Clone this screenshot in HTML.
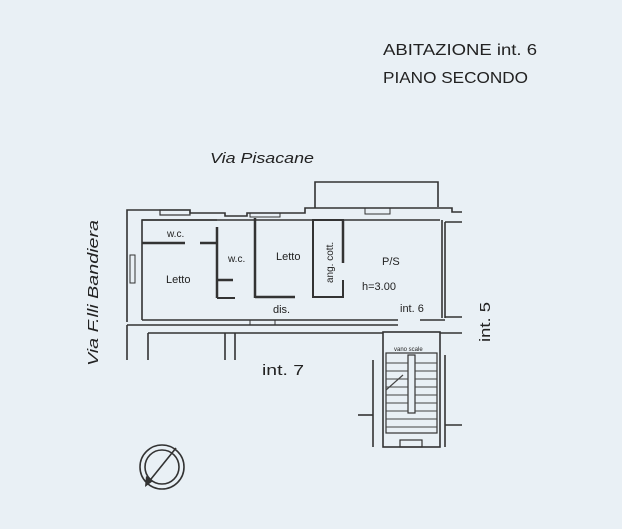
<!DOCTYPE html>
<html><head><style>
html,body{margin:0;padding:0;background:#e9f0f5;}
svg{display:block}
text{font-family:"Liberation Sans",sans-serif;fill:#222}
</style></head><body>
<svg width="622" height="529" viewBox="0 0 622 529" xmlns="http://www.w3.org/2000/svg">
<rect width="622" height="529" fill="#e9f0f5"/>
<text x="383" y="55" font-size="16" textLength="154" lengthAdjust="spacingAndGlyphs">ABITAZIONE int. 6</text>
<text x="383" y="83" font-size="16" textLength="145" lengthAdjust="spacingAndGlyphs">PIANO SECONDO</text>
<text x="210" y="163" font-size="15" font-style="italic" textLength="104" lengthAdjust="spacingAndGlyphs">Via Pisacane</text>
<text transform="translate(98,366) rotate(-90)" font-size="15" font-style="italic" textLength="146" lengthAdjust="spacingAndGlyphs">Via F.lli Bandiera</text>
<text transform="translate(490,342) rotate(-90)" font-size="15" textLength="40" lengthAdjust="spacingAndGlyphs">int. 5</text>
<text x="262" y="375" font-size="15" textLength="42" lengthAdjust="spacingAndGlyphs">int. 7</text>

<g stroke="#333" stroke-width="1.6" fill="none">
<!-- outer walls -->
<polyline points="127,322 127,210 190,210 190,213 225,213 225,216 247,216 247,213 305,213 305,208 315,208"/>
<polyline points="315,208 315,182 438,182 438,207"/>
<polyline points="315,208 452,208 452,212 462,212"/>
<polyline points="142,320 142,220 217,220"/>
<line x1="142" y1="220" x2="440" y2="220"/>
<line x1="442" y1="220" x2="442" y2="318"/>
<line x1="445" y1="222" x2="445" y2="318"/>
<line x1="445" y1="222" x2="462" y2="222"/>
<line x1="445" y1="317" x2="462" y2="317"/>
<line x1="142" y1="320" x2="398" y2="320"/>
<line x1="127" y1="325" x2="398" y2="325"/>
<line x1="420" y1="320" x2="445" y2="320"/>
<line x1="148" y1="333" x2="383" y2="333"/>
<line x1="440" y1="333" x2="462" y2="333"/>
<line x1="148" y1="333" x2="148" y2="360"/>
<line x1="127" y1="325" x2="127" y2="360"/>
<line x1="225" y1="333" x2="225" y2="360"/>
<line x1="235" y1="333" x2="235" y2="360"/>
<!-- windows -->
<rect x="160" y="210" width="30" height="5" stroke-width="1.2"/>
<rect x="250" y="213" width="30" height="4" stroke-width="1"/>
<rect x="365" y="208" width="25" height="6" stroke-width="1"/>
<rect x="130" y="255" width="5" height="28" stroke-width="1"/>
<rect x="250" y="320" width="25" height="5" stroke-width="1"/>
<!-- interior -->
<line x1="142" y1="243" x2="185" y2="243" stroke-width="2.5"/>
<line x1="200" y1="243" x2="217" y2="243" stroke-width="2.5"/>
<line x1="217" y1="227" x2="217" y2="298" stroke-width="2.5"/>
<line x1="217" y1="298" x2="235" y2="298" stroke-width="2"/>
<line x1="217" y1="280" x2="233" y2="280" stroke-width="2.5"/>
<line x1="255" y1="218" x2="255" y2="298" stroke-width="2.5"/>
<line x1="255" y1="297" x2="295" y2="297" stroke-width="2.5"/>
<polyline points="343,232 343,220 313,220 313,297 343,297 343,280" stroke-width="2"/>
<line x1="343" y1="220" x2="343" y2="263" stroke-width="2.5"/>
<!-- stair -->
<rect x="383" y="332" width="57" height="115"/>
<rect x="386" y="353" width="51" height="80" stroke-width="1.2"/>
<rect x="408" y="355" width="7" height="58" stroke-width="1.2"/>
<line x1="373" y1="360" x2="373" y2="447"/>
<line x1="445" y1="355" x2="445" y2="447"/>
<line x1="358" y1="415" x2="373" y2="415"/>
<line x1="445" y1="425" x2="462" y2="425"/>
<rect x="400" y="440" width="22" height="7" stroke-width="1.2"/>
</g>
<g stroke="#444" stroke-width="0.9">
<line x1="386" y1="363" x2="408" y2="363"/><line x1="415" y1="363" x2="437" y2="363"/>
<line x1="386" y1="371" x2="408" y2="371"/><line x1="415" y1="371" x2="437" y2="371"/>
<line x1="386" y1="379" x2="408" y2="379"/><line x1="415" y1="379" x2="437" y2="379"/>
<line x1="386" y1="387" x2="408" y2="387"/><line x1="415" y1="387" x2="437" y2="387"/>
<line x1="386" y1="395" x2="408" y2="395"/><line x1="415" y1="395" x2="437" y2="395"/>
<line x1="386" y1="403" x2="408" y2="403"/><line x1="415" y1="403" x2="437" y2="403"/>
<line x1="386" y1="411" x2="408" y2="411"/><line x1="415" y1="411" x2="437" y2="411"/>
<line x1="386" y1="419" x2="437" y2="419"/>
<line x1="386" y1="427" x2="437" y2="427"/>
<line x1="386" y1="390" x2="403" y2="375" stroke-width="1.2"/>
</g>
<g font-size="10">
<text x="167" y="237">w.c.</text>
<text x="228" y="262">w.c.</text>
<text x="276" y="260" font-size="11">Letto</text>
<text x="166" y="283" font-size="11">Letto</text>
<text transform="translate(333,283) rotate(-90)">ang. cott.</text>
<text x="382" y="265" font-size="11">P/S</text>
<text x="362" y="290" font-size="11">h=3.00</text>
<text x="273" y="313" font-size="11">dis.</text>
<text x="400" y="312" font-size="11">int. 6</text>
<text x="394" y="351" font-size="6">vano scale</text>
</g>
<g stroke="#333" stroke-width="1.6" fill="none">
<circle cx="162" cy="467" r="22"/>
<circle cx="162" cy="467" r="17"/>
<line x1="176" y1="448" x2="147" y2="484"/>
</g>
<polygon points="145,487 146,476 153,481" fill="#333"/>
</svg>
</body></html>
